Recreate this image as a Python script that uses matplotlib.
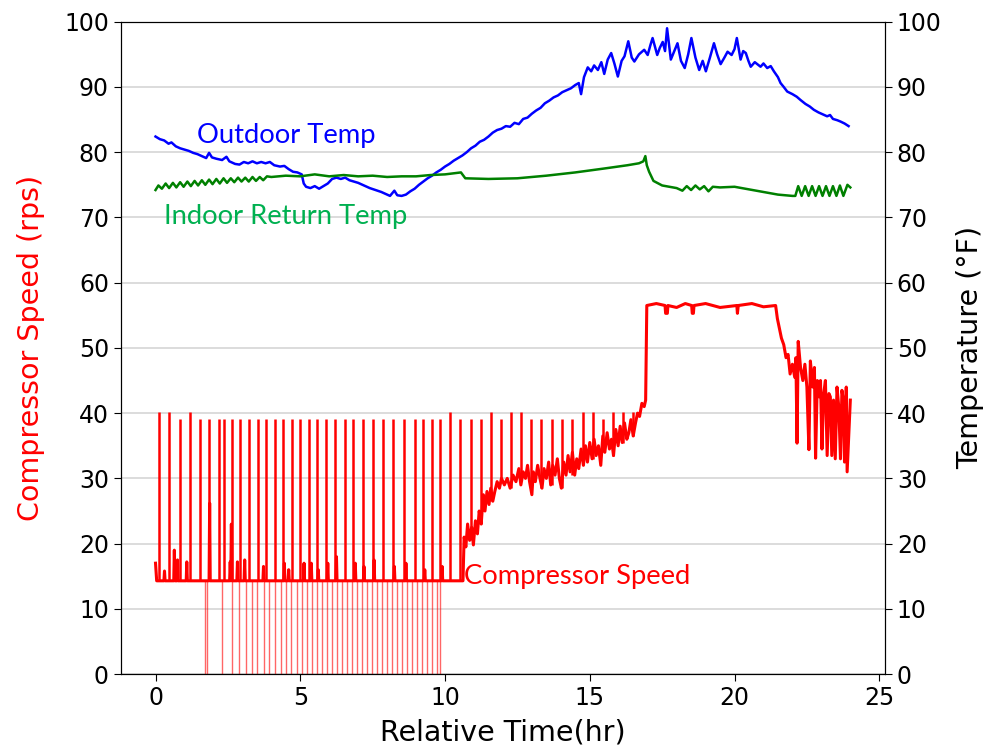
import matplotlib.pyplot as plt

# Outdoor temperature (degF) vs relative time (hr)
outdoor_t = [0.00, 0.15, 0.30, 0.45, 0.55, 0.70, 0.85, 1.00, 1.15, 1.30, 1.45, 1.60, 1.75, 1.85, 1.95,
             2.10, 2.30, 2.45, 2.55, 2.75, 2.90, 3.05, 3.20, 3.35, 3.50, 3.65, 3.80, 3.95, 4.10, 4.30,
             4.45, 4.60, 4.75, 4.90, 5.05, 5.12, 5.20, 5.35, 5.50, 5.65, 5.80, 5.95, 6.10, 6.25, 6.40,
             6.55, 6.70, 6.85, 7.00, 7.20, 7.40, 7.60, 7.80, 7.95, 8.10, 8.25, 8.35, 8.50, 8.65, 8.80,
             8.95, 9.10, 9.25, 9.40, 9.55, 9.70, 9.85, 10.00, 10.15, 10.30, 10.45, 10.60, 10.75, 10.90,
             11.05, 11.20, 11.35, 11.50, 11.65, 11.80, 11.95, 12.10, 12.25, 12.40, 12.55, 12.70, 12.85,
             13.00, 13.15, 13.30, 13.45, 13.60, 13.75, 13.90, 14.05, 14.20, 14.35, 14.50, 14.62, 14.70,
             14.80, 14.93, 15.05, 15.15, 15.28, 15.40, 15.50, 15.62, 15.74, 15.85, 15.97, 16.10, 16.20,
             16.33, 16.45, 16.54, 16.70, 16.88, 17.00, 17.10, 17.17, 17.33, 17.42, 17.52, 17.60, 17.67,
             17.80, 17.92, 18.03, 18.15, 18.28, 18.40, 18.51, 18.65, 18.78, 18.90, 19.01, 19.15, 19.29,
             19.40, 19.52, 19.65, 19.76, 19.90, 20.00, 20.08, 20.21, 20.30, 20.39, 20.48, 20.56, 20.70,
             20.90, 21.00, 21.13, 21.25, 21.36, 21.50, 21.59, 21.70, 21.82, 22.00, 22.15, 22.28, 22.45,
             22.60, 22.74, 22.90, 23.05, 23.20, 23.30, 23.40, 23.55, 23.66, 23.80, 23.94]
outdoor_temp = [82.4, 82.0, 81.8, 81.3, 81.5, 80.9, 80.6, 80.4, 80.2, 79.9, 79.7, 79.4, 79.1, 79.9, 79.2,
                79.0, 78.8, 79.3, 78.6, 78.2, 78.1, 78.5, 78.3, 78.6, 78.3, 78.5, 78.3, 78.5, 78.0, 77.8,
                77.9, 77.4, 77.0, 76.9, 76.6, 75.2, 74.7, 74.5, 74.8, 74.4, 74.8, 75.2, 75.9, 76.1, 75.9,
                76.1, 75.7, 75.5, 75.3, 74.9, 74.5, 74.2, 73.9, 73.6, 73.3, 74.1, 73.4, 73.3, 73.5, 74.0,
                74.4, 75.0, 75.5, 76.0, 76.4, 76.9, 77.3, 77.8, 78.2, 78.7, 79.1, 79.5, 80.0, 80.6,
                81.0, 81.6, 81.9, 82.4, 83.0, 83.4, 83.6, 84.0, 83.9, 84.5, 84.3, 85.1, 85.3,
                85.9, 86.4, 86.8, 87.5, 87.9, 88.4, 88.7, 89.2, 89.5, 89.8, 90.3, 90.6, 88.9,
                91.5, 93.0, 92.4, 93.3, 92.6, 93.8, 92.0, 94.2, 95.2, 93.6, 91.6, 94.0, 94.7,
                97.0, 94.5, 93.9, 95.0, 95.7, 94.9, 96.5, 97.5, 94.9, 96.0, 96.9, 95.5, 99.0,
                94.2, 95.5, 96.7, 94.0, 92.9, 95.0, 97.5, 94.5, 92.6, 94.0, 92.4, 94.5, 96.7,
                95.0, 93.5, 94.5, 95.4, 94.9, 95.8, 97.5, 94.2, 95.5, 95.2, 94.0, 93.1, 93.8,
                93.1, 93.6, 92.9, 93.2, 92.4, 91.5, 90.6, 90.0, 89.3, 88.9, 88.5, 88.0, 87.4,
                87.0, 86.5, 86.1, 85.8, 85.5, 85.7, 85.1, 84.9, 84.7, 84.4, 84.0]

# Indoor return air temperature (degF)
indoor_t = [0.00, 0.10, 0.22, 0.35, 0.47, 0.60, 0.72, 0.85, 0.97, 1.10, 1.22, 1.35, 1.47, 1.60, 1.72,
            1.85, 1.97, 2.10, 2.22, 2.35, 2.47, 2.60, 2.72, 2.85, 2.97, 3.10, 3.22, 3.35, 3.47, 3.60,
            3.72, 3.85, 4.00, 4.50, 5.00, 5.50, 6.00, 6.50, 7.00, 7.50, 8.00, 8.50, 9.00, 9.50, 10.00,
            10.55, 10.70, 11.50, 12.50, 13.50, 14.50, 15.50, 16.30, 16.70, 16.85, 16.92, 16.97, 17.05,
            17.20, 17.50, 18.00, 18.20, 18.35, 18.50, 18.65, 18.80, 18.95, 19.10, 19.25, 19.50, 20.00,
            20.50, 21.00, 21.50, 22.00, 22.10, 22.20, 22.32, 22.44, 22.56, 22.68, 22.80, 22.92, 23.04,
            23.16, 23.28, 23.40, 23.52, 23.64, 23.76, 23.90, 24.00]
indoor_temp = [74.2, 74.9, 74.4, 75.2, 74.5, 75.3, 74.6, 75.4, 74.7, 75.5, 74.8, 75.6, 74.9, 75.7, 75.0,
               75.8, 75.1, 75.9, 75.2, 76.0, 75.3, 76.0, 75.4, 76.1, 75.5, 76.1, 75.5, 76.2, 75.6, 76.2,
               75.7, 76.3, 76.2, 76.4, 76.3, 76.6, 76.3, 76.5, 76.3, 76.4, 76.2, 76.3, 76.3, 76.5, 76.6,
               76.9, 76.0, 75.9, 76.0, 76.4, 76.9, 77.5, 78.0, 78.3, 78.6, 79.4, 78.0, 77.0,
               75.6, 74.9, 74.5, 74.1, 74.8, 74.2, 74.9, 74.3, 74.8, 74.0, 74.7, 74.6, 74.7,
               74.3, 73.9, 73.5, 73.3, 73.3, 74.8, 73.3, 74.8, 73.3, 74.8, 73.3, 74.8, 73.3,
               74.8, 73.3, 74.8, 73.3, 74.9, 73.3, 75.0, 74.6]

# Compressor speed (rps): idle level and short bumps before 10.6 hr
idle_speed = 14.3
bump_t = [0.31, 0.65, 0.76, 1.08, 1.87, 2.58, 2.62, 2.83, 3.08, 3.73, 4.45, 4.60, 5.13, 5.38, 5.62,
          5.95, 6.25, 6.90, 7.20, 7.55, 8.25, 8.65, 9.30, 9.90]
bump_speed = [15.8, 19.0, 17.5, 17.2, 26.2, 17.2, 23.0, 17.2, 17.5, 16.5, 17.0, 16.0, 17.0, 17.0, 16.0,
              17.0, 18.0, 17.0, 16.5, 17.5, 16.5, 17.0, 16.0, 16.5]

# Compressor speed after 10.6 hr
comp_t = [10.55, 10.62, 10.66, 10.72, 10.78, 10.85, 10.92, 10.98, 11.05, 11.12, 11.18, 11.25, 11.32,
          11.38, 11.45, 11.52, 11.58, 11.65, 11.72, 11.80, 11.88, 11.95, 12.05, 12.15, 12.25, 12.35,
          12.45, 12.55, 12.62, 12.70, 12.78, 12.85, 12.92, 13.00, 13.05, 13.12, 13.20, 13.28, 13.35,
          13.42, 13.50, 13.58, 13.65, 13.72, 13.80, 13.88, 13.95, 14.02, 14.10, 14.18, 14.25, 14.32,
          14.40, 14.48, 14.55, 14.62, 14.70, 14.78, 14.85, 14.92, 15.00, 15.08, 15.15, 15.22, 15.30,
          15.38, 15.45, 15.52, 15.60, 15.68, 15.75, 15.82, 15.90, 15.98, 16.05, 16.12, 16.20, 16.28,
          16.35, 16.42, 16.50, 16.58, 16.65, 16.72, 16.80, 16.88, 16.93, 16.97, 17.30, 17.60, 17.62,
          17.68, 17.70, 18.00, 18.30, 18.52, 18.54, 18.58, 18.60, 19.00, 19.50, 20.08, 20.10, 20.13,
          20.60, 21.00, 21.42, 21.48, 21.55, 21.62, 21.70, 21.78, 21.85, 21.92, 22.00, 22.08, 22.12,
          22.16, 22.20, 22.28, 22.36, 22.43, 22.50, 22.57, 22.62, 22.70, 22.76, 22.80, 22.86, 22.92,
          22.97, 23.02, 23.08, 23.14, 23.20, 23.26, 23.31, 23.36, 23.42, 23.48, 23.54, 23.60, 23.66,
          23.71, 23.76, 23.80, 23.86, 23.89, 23.94, 24.00]
comp_speed = [14.3, 14.3, 21.0, 19.5, 23.0, 20.5, 22.5, 19.8, 23.5, 21.5, 25.0, 23.0, 27.5,
              25.0, 28.0, 26.0, 28.5, 26.5, 28.0, 29.5, 28.5, 30.0, 29.0, 30.0, 28.5, 30.5,
              29.5, 31.5, 29.0, 31.0, 30.0, 32.0, 29.5, 27.5, 31.0, 29.5, 32.0, 30.0, 28.5,
              31.5, 30.0, 32.5, 29.0, 32.0, 30.5, 33.0, 30.0, 28.5, 32.5, 30.5, 33.5, 31.0,
              34.0, 30.5, 33.0, 31.5, 34.5, 32.0, 35.0, 32.5, 35.5, 33.0, 36.0, 33.5, 35.0,
              32.0, 36.5, 34.0, 37.0, 34.5, 36.0, 33.5, 37.5, 35.0, 38.0, 35.5, 38.5, 36.0,
              37.0, 39.0, 36.5, 38.5, 40.0, 39.5, 41.5, 41.0, 42.0, 56.5, 56.8, 56.5, 55.3,
              55.3, 56.5, 56.2, 56.8, 56.5, 55.3, 55.3, 56.5, 56.8, 56.2, 56.5, 55.3, 56.5,
              56.8, 56.3, 56.5, 54.5, 53.0, 51.5, 50.5, 48.5, 49.0, 46.0, 47.5, 45.5, 48.5,
              35.4, 51.0, 47.0, 45.0, 47.5, 44.0, 34.4, 48.0, 44.0, 47.0, 33.1, 45.0, 42.5,
              45.0, 34.5, 43.0, 45.0, 33.5, 43.0, 42.5, 33.5, 42.0, 33.0, 44.0, 41.0, 33.0,
              43.5, 42.0, 32.5, 44.0, 31.0, 36.0, 42.0]

# Short spikes of the compressor speed: time, starting level, peak
spike_t = [0.13, 0.47, 0.84, 1.20, 1.55, 1.85, 2.19, 2.36, 2.65, 2.92, 3.22, 3.55, 3.82, 4.14, 4.42,
           4.72, 5.00, 5.29, 5.58, 5.89, 6.21, 6.53, 6.82, 7.15, 7.50, 7.85, 8.22, 8.60, 8.96, 9.25,
           9.54, 9.83, 10.17, 10.51, 10.89, 11.24, 11.60, 11.95, 12.29, 12.64, 12.98, 13.33, 13.71,
           14.04, 14.39, 14.76, 15.10, 15.47, 15.81, 16.16, 16.50]
spike_base = [14.3, 14.3, 14.3, 14.3, 14.3, 14.3, 14.3, 14.3, 14.3, 14.3, 14.3, 14.3, 14.3, 14.3, 14.3,
              14.3, 14.3, 14.3, 14.3, 14.3, 14.3, 14.3, 14.3, 14.3, 14.3, 14.3, 14.3, 14.3, 14.3, 14.3,
              14.3, 14.3, 14.3, 14.3, 20.5, 23.0, 26.5, 30.0, 28.5, 30.0, 29.5, 28.5, 29.0,
              28.5, 30.5, 32.0, 33.0, 34.0, 33.5, 35.5, 36.5]
spike_peak = [40.2, 40.2, 39.1, 40.2, 39.1, 39.1, 39.1, 39.1, 39.1, 39.1, 39.1, 39.1, 39.1, 39.1, 39.1,
              39.1, 39.1, 39.1, 39.1, 39.1, 39.1, 39.1, 39.1, 39.1, 39.1, 39.1, 39.1, 39.1, 39.1, 39.1,
              39.1, 39.1, 40.2, 39.1, 39.1, 39.1, 40.2, 39.1, 40.2, 40.2, 39.1, 39.1, 39.1,
              39.1, 39.1, 40.2, 40.2, 39.1, 40.2, 40.2, 40.2]

# Compressor shut-offs (speed drops to 0)
off_t = [1.71, 1.79, 2.31, 2.65, 2.90, 3.13, 3.34, 3.51, 3.74, 3.92, 4.14, 4.35, 4.51, 4.69, 4.89,
         5.06, 5.23, 5.41, 5.58, 5.75, 5.92, 6.10, 6.27, 6.44, 6.61, 6.78, 6.96, 7.13, 7.30, 7.47,
         7.64, 7.82, 7.99, 8.16, 8.33, 8.51, 8.68, 8.85, 9.02, 9.19, 9.37, 9.54, 9.71, 9.83]

# idle trace with its bumps, joined to the later trace
idle_t = [0.00, 0.04]
idle_v = [17.0, idle_speed]
for t, v in zip(bump_t, bump_speed):
    idle_t += [t - 0.02, t, t + 0.02]
    idle_v += [idle_speed, v, idle_speed]
red_t = idle_t + comp_t
red_v = idle_v + comp_speed

fig, ax = plt.subplots(figsize=(9.9, 7.49), dpi=100)
fig.subplots_adjust(left=0.122, right=0.894, bottom=0.100, top=0.971)
ax2 = ax.twinx()

ax.vlines(off_t, 0, idle_speed, color='red', linewidth=1.0, alpha=0.6)
ax.vlines(spike_t, spike_base, spike_peak, color='red', linewidth=1.8)
ax.plot(red_t, red_v, color='red', linewidth=2.2)
ax2.plot(outdoor_t, outdoor_temp, color='blue', linewidth=1.8)
ax2.plot(indoor_t, indoor_temp, color='green', linewidth=1.8)

ax.set_ylim(0, 100)
ax2.set_ylim(0, 100)
ax.set_xlim(-1.2, 25.2)
ax.set_yticks(range(0, 101, 10))
ax2.set_yticks(range(0, 101, 10))
ax.set_xticks(range(0, 26, 5))
ax.grid(axis='y', color='#d9d9d9', linewidth=1.3)
ax.set_axisbelow(True)

for a in (ax, ax2):
    a.tick_params(axis='both', labelsize=17, length=5)

ax.set_xlabel('Relative Time(hr)', fontsize=20.5, labelpad=6)
ax.set_ylabel('Compressor Speed (rps)', fontsize=20.5, color='red', labelpad=14)
ax2.set_ylabel('Temperature (°F)', fontsize=20.5, labelpad=10)

ax.text(1.45, 82.5, 'Outdoor Temp', color='blue', fontsize=19.7, family='Lato', va='center')
ax.text(0.28, 70.1, 'Indoor Return Temp', color='#00b050', fontsize=19.7, family='Lato', va='center')
ax.text(10.67, 15.0, 'Compressor Speed', color='red', fontsize=19.7, family='Lato', va='center')

plt.savefig('out.png', dpi=100)
